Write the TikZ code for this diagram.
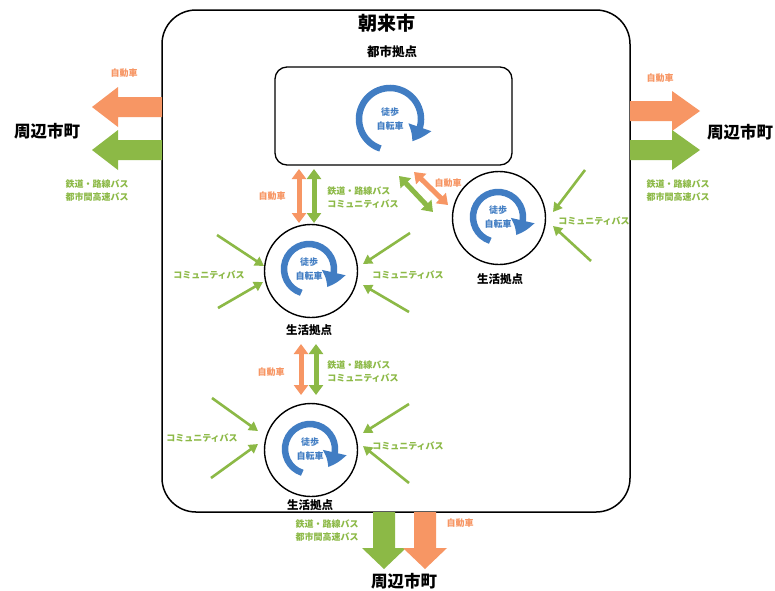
\documentclass[tikz,border=0pt]{standalone}
\usepackage{fontspec}
\setmainfont{Noto Sans CJK JP}
\usetikzlibrary{arrows.meta,bending}
\definecolor{corange}{RGB}{247,150,100}
\definecolor{cgreen}{RGB}{140,185,70}
\definecolor{cblue}{RGB}{65,125,195}
\begin{document}
\begin{tikzpicture}[x=1pt,y=-1pt,
  olab/.style={text=corange,font=\fontsize{9}{10}\selectfont\bfseries,inner sep=0pt},
  glab/.style={text=cgreen,font=\fontsize{9}{13}\selectfont\bfseries,inner sep=0pt,align=center},
  place/.style={font=\fontsize{16.5}{18}\selectfont\bfseries,inner sep=0pt},
  hublab/.style={font=\fontsize{11.5}{12}\selectfont\bfseries,inner sep=0pt},
  hub/.style={circle,draw,line width=1.4pt,minimum size=93pt,inner sep=0pt},
  odbl/.style={corange,line width=5pt,{Triangle[width=14pt,length=10pt]}-{Triangle[width=14pt,length=10pt]}},
  gdbl/.style={cgreen,line width=5pt,{Triangle[width=14pt,length=10pt]}-{Triangle[width=14pt,length=10pt]}},
  carr/.style={cgreen,line width=2.6pt,-{Triangle[width=10pt,length=9pt]}},
  cyctext/.style={text=cblue,font=\fontsize{9}{10}\selectfont\bfseries,inner sep=0pt},
  cyc/.pic={
    \draw[cblue,line width=6.5pt,-{Triangle[width=23pt,length=16pt,bend]}]
      (108:#1) arc[start angle=108,end angle=405,radius=#1];
    \node[cyctext] at (0,-7) {徒歩};
    \node[cyctext] at (0,7.5) {自転車};
  }]
\useasboundingbox (0,0) rectangle (775,590);
\fill[white] (0,0) rectangle (775,590);

% main city box
\node[draw,line width=1.5pt,rounded corners=34pt,minimum width=468pt,minimum height=502pt,inner sep=0pt] (asago) at (396,261) {};
\node[font=\fontsize{19}{20}\selectfont\bfseries,inner sep=0pt] (title) at (387,23) {朝来市};
\node[hublab,font=\fontsize{12.5}{13}\selectfont\bfseries] (citylab) at (392,52) {都市拠点};

% urban core
\node[draw,line width=1.3pt,rounded corners=12pt,minimum width=237pt,minimum height=98pt,inner sep=0pt] (city) at (393.5,116) {};
\pic at (390,119) {cyc=31};

% living hubs
\node[hub] (h1) at (499,218) {};
\node[hub] (h2) at (311,271) {};
\node[hub] (h3) at (311,450) {};
\pic at (498,217) {cyc=25};
\pic at (309,269) {cyc=25};
\pic at (310,449) {cyc=25};
\node[hublab] (h1l) at (500,279) {生活拠点};
\node[hublab] (h2l) at (309,330) {生活拠点};
\node[hublab] (h3l) at (310,505) {生活拠点};

% left external arrows
\fill[corange] (162,97) -- (118,97) -- (118,87) -- (92,107) -- (118,127) -- (118,117) -- (162,117) -- cycle;
\fill[cgreen] (162,140) -- (118,140) -- (118,130) -- (92,150) -- (118,170) -- (118,160) -- (162,160) -- cycle;
\node[olab] (lo) at (124,73) {自動車};
\node[place] (lt) at (47,131) {周辺市町};
\node[glab] (lg) at (97,191) {鉄道・路線バス\\都市間高速バス};

% right external arrows
\fill[corange] (630,101) -- (672,101) -- (672,91) -- (700,111) -- (672,131) -- (672,121) -- (630,121) -- cycle;
\fill[cgreen] (630,140) -- (672,140) -- (672,130) -- (700,150) -- (672,170) -- (672,160) -- (630,160) -- cycle;
\node[olab] (ro) at (660,78) {自動車};
\node[place] (rt) at (740,132) {周辺市町};
\node[glab] (rg) at (678,191) {鉄道・路線バス\\都市間高速バス};

% bottom external arrows
\fill[cgreen] (373,512) -- (373,548) -- (362,548) -- (384,569) -- (406,548) -- (395,548) -- (395,512) -- cycle;
\fill[corange] (414,512) -- (414,548) -- (403,548) -- (425,569) -- (447,548) -- (436,548) -- (436,512) -- cycle;
\node[olab] (bo) at (460,523) {自動車};
\node[glab] (bg) at (327,531) {鉄道・路線バス\\都市間高速バス};
\node[place] (bt) at (404,581) {周辺市町};

% links city <-> h2
\coordinate (a1) at (299,169);
\coordinate (a2) at (299,223);
\coordinate (b1) at (314,169);
\coordinate (b2) at (314,223);
\draw[odbl] (a1) -- (a2);
\draw[gdbl] (b1) -- (b2);
\node[olab] (l1o) at (272,196) {自動車};
\node[glab,align=left] (l1g) at (363,198) {鉄道・路線バス\\コミュニティバス};

% links city <-> h1 (diagonal)
\coordinate (d1) at (399,176);
\coordinate (d2) at (433,212);
\coordinate (e1) at (414,172);
\coordinate (e2) at (448,205);
\draw[gdbl] (d1) -- (d2);
\draw[odbl] (e1) -- (e2);
\node[olab] (l2o) at (448,183) {自動車};

% links h2 <-> h3
\coordinate (f1) at (301,344);
\coordinate (f2) at (301,395);
\coordinate (g1) at (316,344);
\coordinate (g2) at (316,395);
\draw[odbl] (f1) -- (f2);
\draw[gdbl] (g1) -- (g2);
\node[olab] (l3o) at (271,372) {自動車};
\node[glab,align=left] (l3g) at (363,372) {鉄道・路線バス\\コミュニティバス};

% community bus arrows, h1
\draw[carr] (585,170) -- (553,212);
\draw[carr] (591,261) -- (553,226);
\node[glab] (c1) at (594,221) {コミュニティバス};

% community bus arrows, h2
\draw[carr] (217,235) -- (264,266);
\draw[carr] (218,308) -- (263,282);
\node[glab] (c2l) at (209,275) {コミュニティバス};
\draw[carr] (410,233) -- (363,264);
\draw[carr] (409,312) -- (363,285);
\node[glab] (c2r) at (408,275) {コミュニティバス};

% community bus arrows, h3
\draw[carr] (212,398) -- (258,431);
\draw[carr] (211,478) -- (258,444);
\node[glab] (c3l) at (202,438) {コミュニティバス};
\draw[carr] (409,404) -- (363,433);
\draw[carr] (409,483) -- (363,446);
\node[glab] (c3r) at (408,446) {コミュニティバス};
\end{tikzpicture}
\end{document}
